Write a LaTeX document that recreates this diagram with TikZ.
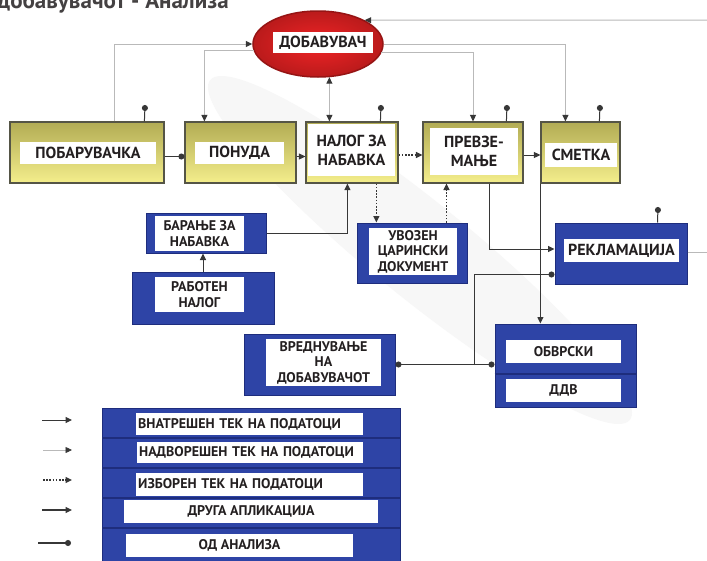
\documentclass[tikz,border=0pt]{standalone}
\usepackage{fontspec}
\setmainfont{PT Sans}
\usetikzlibrary{arrows.meta,shapes.geometric,calc}
\definecolor{bl}{RGB}{46,68,166}
\definecolor{blD}{RGB}{30,45,125}
\definecolor{olv}{RGB}{178,172,84}
\definecolor{ylw}{RGB}{244,238,140}
\definecolor{bxD}{RGB}{85,85,70}
\definecolor{txt}{RGB}{35,31,32}
\definecolor{lnD}{RGB}{55,55,55}
\definecolor{lnL}{RGB}{185,185,185}
\definecolor{rdA}{RGB}{240,36,38}
\definecolor{rdD}{RGB}{150,20,20}
\begin{document}
\begin{tikzpicture}[x=1pt,y=-1pt,
  ybox/.style={draw=bxD, line width=1.2pt, top color=olv, bottom color=ylw, inner sep=0pt},
  bbox/.style={draw=blD, line width=1pt, fill=bl, inner sep=0pt},
  lbl/.style={fill=white, text=txt, align=center, inner sep=0pt},
  big/.style={font=\bfseries\fontsize{16}{19}\selectfont},
  small/.style={font=\bfseries\fontsize{14}{15.5}\selectfont},
  leg/.style={font=\bfseries\fontsize{14}{15}\selectfont},
  tipD/.style={-{Triangle[length=6.5pt,width=6pt,color=lnD]}},
  int/.style={draw=lnD, line width=1pt, tipD},
  ext/.style={draw=lnL, line width=1pt, tipD},
  opt/.style={draw=lnD, line width=1.4pt, dash pattern=on 1.6pt off 1.6pt, tipD},
  dotc/.style={draw=lnD, line width=1pt, -{Circle[length=6pt,color=lnD]}}
]
\useasboundingbox (0,0) rectangle (707,560);
\clip (0,0) rectangle (707,560);
\fill[white] (0,0) rectangle (707,560);
% faint watermark
\fill[black!3, rotate around={-39:(420,250)}] (420,250) ellipse (270 and 48);

% title
\node[anchor=base west, font=\bfseries\fontsize{23}{23}\selectfont, text=txt!85, inner sep=0pt] (title) at (-3,8) {добавувачот - Анализа};

% supplier ellipse
\node[ellipse, draw=rdD, line width=1.5pt, shading=radial, inner color=rdA, outer color=rdD!60!rdA,
      minimum width=130pt, minimum height=66pt, inner sep=0pt] (ell) at (318,44) {};
\node[lbl, big, minimum width=100pt, minimum height=21pt] (ellL) at (323,42.5) {ДОБАВУВАЧ};

% top row boxes
\node[ybox, minimum width=154pt, minimum height=61pt] (pob) at (87,152.5) {};
\node[ybox, minimum width=111pt, minimum height=61pt] (pon) at (240.5,152.5) {};
\node[ybox, minimum width=92pt, minimum height=61pt] (nal) at (352,152.5) {};
\node[ybox, minimum width=100pt, minimum height=61pt] (prev) at (473,152.5) {};
\node[ybox, minimum width=79pt, minimum height=61pt] (sme) at (580.5,152.5) {};
\node[lbl, big, minimum width=136pt, minimum height=22pt] (pobL) at (88,153) {ПОБАРУВАЧКА};
\node[lbl, big, minimum width=89pt, minimum height=22pt] (ponL) at (239.5,153) {ПОНУДА};
\node[lbl, big, minimum width=87pt, minimum height=52pt] (nalL) at (351.5,150) {НАЛОГ ЗА\\НАБАВКА};
\node[lbl, big, minimum width=88pt, minimum height=47pt] (prevL) at (474,151.5) {ПРЕВЗЕ-\\МАЊЕ};
\node[lbl, big, minimum width=72pt, minimum height=24pt] (smeL) at (581,155) {СМЕТКА};

% blue boxes
\node[bbox, minimum width=120pt, minimum height=40pt] (bar) at (206,233) {};
\node[lbl, small, minimum width=89pt, minimum height=35pt] (barL) at (199.5,233.5) {БАРАЊЕ ЗА\\НАБАВКА};
\node[bbox, minimum width=142pt, minimum height=52pt] (rab) at (203,298) {};
\node[lbl, small, minimum width=89pt, minimum height=35pt] (rabL) at (199.5,294.5) {РАБОТЕН\\НАЛОГ};
\node[bbox, minimum width=110pt, minimum height=60pt] (uvo) at (412,253) {};
\node[lbl, small, minimum width=88pt, minimum height=47pt] (uvoL) at (413,251.5) {УВОЗЕН\\ЦАРИНСКИ\\ДОКУМЕНТ};
\node[bbox, minimum width=132pt, minimum height=61pt] (rek) at (621,253.5) {};
\node[lbl, big, minimum width=115pt, minimum height=23pt] (rekL) at (621.5,250.5) {РЕКЛАМАЦИЈА};
\node[bbox, minimum width=151pt, minimum height=61pt] (vre) at (319.5,364.5) {};
\node[lbl, small, minimum width=115pt, minimum height=47pt] (vreL) at (323.5,362.5) {ВРЕДНУВАЊЕ\\НА\\ДОБАВУВАЧОТ};
\node[bbox, minimum width=141pt, minimum height=83pt] (obv) at (565.5,365.5) {};
\draw[blD, line width=1.5pt] (obv.west |- 0,374) -- (obv.east |- 0,374);
\node[lbl, small, minimum width=115pt, minimum height=23pt] (obvL) at (563.5,351.5) {ОБВРСКИ};
\node[lbl, small, minimum width=115pt, minimum height=23pt] (ddvL) at (563.5,390.5) {ДДВ};

% free ends
\coordinate (rtop) at (707,20);
\coordinate (rrek) at (707,252);
\coordinate (d1) at (145,105);
\coordinate (d2) at (381,105);
\coordinate (d3) at (507,105);
\coordinate (d4) at (600,105);
\coordinate (d5) at (658,207);
\coordinate (j) at (474,365);

% connectors from/to supplier
\draw[ext] ($(pob.north west)+(105,0)$) |- (ell.west);
\draw[ext] (ell.186) -| ($(pon.north west)+(20,0)$);
\draw[ext] (ell.352) -| (prev.north);
\draw[ext] (ell.east) -| ($(sme.north west)+(25,0)$);
\draw[ext] (rtop) -- (ell.27);
\coordinate (nt) at ($(nal.north west)+(24,0)$);
\draw[ext, {Triangle[length=6.5pt,width=6pt,color=lnD]}-{Triangle[length=6.5pt,width=6pt,color=lnD]}] (nt |- ell.290) -- (nt);

% analysis dots
\draw[dotc] ($(pob.north west)+(135,0)$) -- (d1);
\draw[dotc] ($(nal.north west)+(75,0)$) -- (d2);
\draw[dotc] ($(prev.north west)+(84,0)$) -- (d3);
\draw[dotc] ($(sme.north west)+(59,0)$) -- (d4);
\draw[dotc] ($(rek.north west)+(103,0)$) -- (d5);

% top row flows
\draw[dotc] ($(pob.east)+(0,4)$) -- ($(pon.west)+(0,4)$);
\draw[int] ($(pon.east)+(0,4)$) -- ($(nal.west)+(0,4)$);
\draw[opt] ($(nal.east)+(0,2.5)$) -- ($(prev.west)+(0,2.5)$);
\draw[int] ($(prev.east)+(0,2.5)$) -- ($(sme.west)+(0,2.5)$);

% lower flows
\draw[int] (bar.east) -| ($(nal.south west)+(42,0)$);
\coordinate (no) at ($(nal.south west)+(71,0)$);
\draw[opt] (no) -- (no |- uvo.north);
\coordinate (uo) at ($(uvo.north west)+(90,0)$);
\draw[opt] (uo) -- (uo |- prev.south);
\draw[int] (rab.north) -- (rab.north |- bar.south);
\draw[int] ($(prev.south west)+(67,0)$) |- ($(rek.west)+(0,-4.5)$);
\draw[int] (sme.south west) -- (sme.south west |- obv.north);
\draw[draw=lnD, line width=1pt, {Circle[length=6pt,color=lnD]}-{Circle[length=6pt,color=lnD]}] (vre.east) -- (obv.west |- vre.east);
\draw[dotc] (j) |- ($(rek.south west)+(0,-10)$);
\draw[draw=lnL, line width=0.8pt] (rek.east |- rrek) -- (rrek);

% legend
\node[bbox, minimum width=298pt, minimum height=160pt, anchor=north west] (lgd) at (102,408) {};
\foreach \yy in {438,468,498,528} \draw[blD, line width=1.2pt] (102,\yy) -- (400,\yy);
\node[lbl, leg, text width=223pt, align=left, inner xsep=2pt, minimum height=22pt, anchor=west] (g1) at (136,424) {ВНАТРЕШЕН ТЕК НА ПОДАТОЦИ};
\node[lbl, leg, text width=222pt, align=left, inner xsep=2pt, minimum height=21pt, anchor=west] (g2) at (137,452.5) {НАДВОРЕШЕН ТЕК НА ПОДАТОЦИ};
\node[lbl, leg, text width=223pt, align=left, inner xsep=2pt, minimum height=23pt, anchor=west] (g3) at (136,484.5) {ИЗБОРЕН ТЕК НА ПОДАТОЦИ};
\node[lbl, leg, minimum width=254pt, minimum height=23pt] (g4) at (251,511.5) {ДРУГА АПЛИКАЦИЈА};
\node[lbl, leg, minimum width=227pt, minimum height=23pt] (g5) at (239.5,545.5) {ОД АНАЛИЗА};

\coordinate (a1) at (42,420); \coordinate (b1) at (72,420);
\coordinate (a2) at (43,450); \coordinate (b2) at (72,450);
\coordinate (a3) at (43,480); \coordinate (b3) at (72,480);
\coordinate (a4) at (42,510); \coordinate (b4) at (72,510);
\coordinate (a5) at (38,543); \coordinate (b5) at (71,543);
\draw[int] (a1) -- (b1);
\draw[ext, line width=0.7pt] (a2) -- (b2);
\draw[opt] (a3) -- (b3);
\draw[int, line width=1.2pt] (a4) -- (b4);
\draw[dotc, line width=1.2pt] (a5) -- (b5);
\end{tikzpicture}
\end{document}
